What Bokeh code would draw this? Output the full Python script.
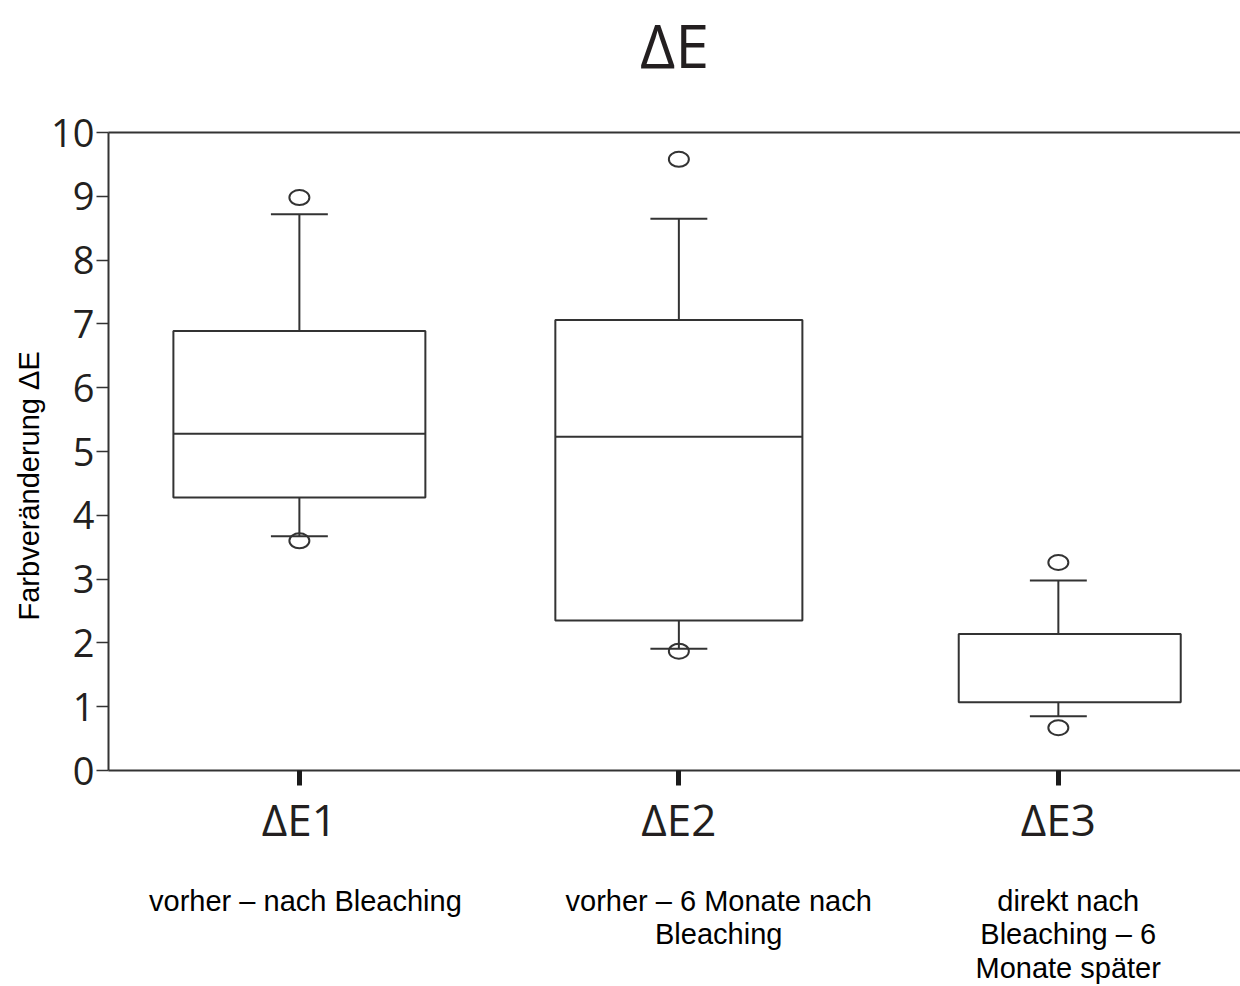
import math
from bokeh.plotting import figure
from bokeh.models import LinearAxis, FixedTicker, Range1d, Title
from bokeh.embed import file_html
from bokeh.resources import INLINE

# ---------------- data ----------------
categories = ["ΔE1", "ΔE2", "ΔE3"]
descriptions = [
    "vorher – nach Bleaching",
    "vorher – 6 Monate nach\nBleaching",
    "direkt nach\nBleaching – 6\nMonate später",
]
whisker_low = [3.67, 1.91, 0.85]
q1 = [4.28, 2.35, 1.07]
median = [5.28, 5.23, None]
q3 = [6.89, 7.06, 2.14]
whisker_high = [8.72, 8.65, 2.98]
outlier_cat = ["ΔE1", "ΔE1", "ΔE2", "ΔE2", "ΔE3", "ΔE3"]
outlier_val = [8.98, 3.60, 9.58, 1.87, 3.26, 0.67]
y_ticks = [0, 1, 2, 3, 4, 5, 6, 7, 8, 9, 10]

# ---------------- styles ----------------
BOX_WIDTH = [0.664, 0.651, 0.585]
BOX_SHIFT = [0.0, 0.0, 0.03]
CAP_WIDTH = 0.15
DESC_SHIFT = [0.016, 0.105, 0.026]
LINE = "#333333"
TXT = "#231f20"

pos = {c: i + 1 for i, c in enumerate(categories)}
xs = [pos[c] for c in categories]

p = figure(width=1240, height=986,
           x_range=Range1d(0.497, 3.48), y_range=Range1d(0, 10),
           output_backend="svg", toolbar_location=None,
           min_border_left=108, min_border_right=0,
           min_border_top=131, min_border_bottom=216,
           title="ΔE")
p.grid.visible = False
p.outline_line_color = None
p.background_fill_color = "white"
p.border_fill_color = "white"

p.title.align = "center"
p.title.text_font = "Open Sans"
p.title.text_font_size = "61px"
p.title.text_font_style = "normal"
p.title.text_color = TXT
p.title.standoff = 0

# boxes
p.quad(left=[x + s - w / 2 for x, s, w in zip(xs, BOX_SHIFT, BOX_WIDTH)],
       right=[x + s + w / 2 for x, s, w in zip(xs, BOX_SHIFT, BOX_WIDTH)],
       bottom=q1, top=q3, fill_color="white", line_color=LINE, line_width=2)

# medians
mi = [i for i, m in enumerate(median) if m is not None]
p.segment(x0=[xs[i] + BOX_SHIFT[i] - BOX_WIDTH[i] / 2 for i in mi],
          x1=[xs[i] + BOX_SHIFT[i] + BOX_WIDTH[i] / 2 for i in mi],
          y0=[median[i] for i in mi], y1=[median[i] for i in mi],
          line_color=LINE, line_width=2)

# whiskers
p.segment(x0=xs, x1=xs, y0=q3, y1=whisker_high, line_color=LINE, line_width=2)
p.segment(x0=xs, x1=xs, y0=q1, y1=whisker_low, line_color=LINE, line_width=2)
p.segment(x0=[x - CAP_WIDTH / 2 for x in xs], x1=[x + CAP_WIDTH / 2 for x in xs],
          y0=whisker_high, y1=whisker_high, line_color=LINE, line_width=2)
p.segment(x0=[x - CAP_WIDTH / 2 for x in xs], x1=[x + CAP_WIDTH / 2 for x in xs],
          y0=whisker_low, y1=whisker_low, line_color=LINE, line_width=2)

# outliers
p.ellipse(x=[pos[c] for c in outlier_cat], y=outlier_val,
          width=20, height=15, width_units="screen", height_units="screen",
          fill_color=None, line_color=LINE, line_width=2)

# x axis (categories)
xa = p.xaxis[0]
xa.ticker = FixedTicker(ticks=xs)
xa.major_label_overrides = {x: c for x, c in zip(xs, categories)}
xa.major_label_text_font = "Open Sans"
xa.major_label_text_font_size = "44px"
xa.major_label_text_color = TXT
xa.major_label_standoff = 3
xa.major_tick_out = 15
xa.major_tick_in = 0
xa.major_tick_line_width = 5
xa.major_tick_line_color = "#1a1a1a"
xa.minor_tick_line_color = None
xa.axis_line_color = LINE
xa.axis_line_width = 2

# description axis
dpos = [x + d for x, d in zip(xs, DESC_SHIFT)]
da = LinearAxis(ticker=FixedTicker(ticks=dpos),
                major_label_overrides={x: d for x, d in zip(dpos, descriptions)},
                axis_line_color=None, major_tick_line_color=None,
                minor_tick_line_color=None,
                major_label_text_font="Liberation Sans",
                major_label_text_font_size="29px",
                major_label_text_line_height=1.05,
                major_label_text_color="black",
                major_label_standoff=27)
p.add_layout(da, "below")

# top frame line; its (white, invisible) tick room lifts the title
ta = LinearAxis(ticker=FixedTicker(ticks=[3.479]),
                major_label_overrides={3.479: ""},
                major_label_text_font_size="0px", major_label_standoff=0,
                major_tick_line_color="white", major_tick_line_width=1,
                minor_tick_line_color=None,
                major_tick_out=47, major_tick_in=0,
                axis_line_color=LINE, axis_line_width=2)
p.add_layout(ta, "above")

# y axis
ya = p.yaxis[0]
ya.ticker = FixedTicker(ticks=y_ticks)
ya.major_label_text_font = "Open Sans"
ya.major_label_text_font_size = "38px"
ya.major_label_text_color = TXT
ya.major_label_standoff = 2
ya.major_tick_out = 12
ya.major_tick_in = 0
ya.major_tick_line_width = 1.5
ya.major_tick_line_color = LINE
ya.minor_tick_line_color = None
ya.axis_line_color = LINE
ya.axis_line_width = 2

p.add_layout(Title(text="Farbveränderung ΔE", align="left", offset=150,
                   text_font="Liberation Sans", text_font_size="29px",
                   text_font_style="normal", text_color="black",
                   standoff=8), "left")

open("out.html", "w").write(file_html(p, INLINE))
